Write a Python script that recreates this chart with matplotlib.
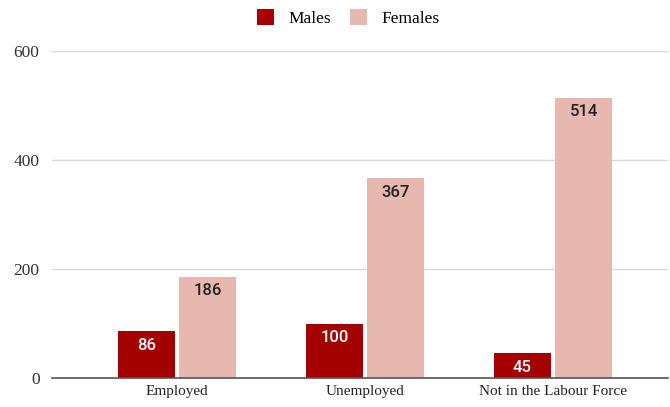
import matplotlib
matplotlib.use("Agg")
import matplotlib.pyplot as plt
import numpy as np

categories = ["Employed", "Unemployed", "Not in the Labour Force"]
males = [86, 100, 45]
females = [186, 367, 514]
yticks = [0, 200, 400, 600]

male_color = "#a50000"
female_color = "#e6b8af"

fig = plt.figure(figsize=(6.7, 4.07), dpi=100)
ax = fig.add_axes([52/670, 29/407, 616/670, 327/407])

x = np.arange(len(categories))
w = 0.305
off = 0.163
bm = ax.bar(x - off, males, width=w, color=male_color, label="Males", zorder=3)
bf = ax.bar(x + off, females, width=w, color=female_color, label="Females", zorder=3)

for rect, v in zip(bm, males):
    ax.text(rect.get_x() + rect.get_width()/2, v - 12, str(v), ha="center", va="top",
            color="white", fontsize=12, family="Roboto", weight="medium", zorder=4)
for rect, v in zip(bf, females):
    ax.text(rect.get_x() + rect.get_width()/2, v - 12, str(v), ha="center", va="top",
            color="#222222", fontsize=12, family="Roboto", weight="medium", zorder=4)

ax.set_xlim(-0.665, 2.612)
ax.set_ylim(0, 600)
ax.set_yticks(yticks)
ax.set_yticklabels([str(t) for t in yticks], family="Liberation Serif", fontsize=12.5, color="#333333")
ax.set_xticks(x)
ax.set_xticklabels(categories, family="Liberation Serif", fontsize=11, color="#222222")
ax.tick_params(axis="both", length=0, pad=5)
ax.tick_params(axis="y", pad=9)
for s in ["top", "right", "left"]:
    ax.spines[s].set_visible(False)
ax.spines["bottom"].set_color("#555555")
ax.spines["bottom"].set_linewidth(1.2)
ax.spines["bottom"].set_zorder(5)
ax.grid(axis="y", color="#d9d9d9", linewidth=1, zorder=0)

leg = fig.legend(handles=[bm, bf], labels=["Males", "Females"], loc="center",
                 bbox_to_anchor=(348/670, 1 - 18/407), ncol=2, frameon=False,
                 prop={"family": "Liberation Serif", "size": 12.5},
                 handlelength=1.0, handleheight=1.0, columnspacing=1.1, handletextpad=0.8)

fig.savefig("out.png", dpi=100)
